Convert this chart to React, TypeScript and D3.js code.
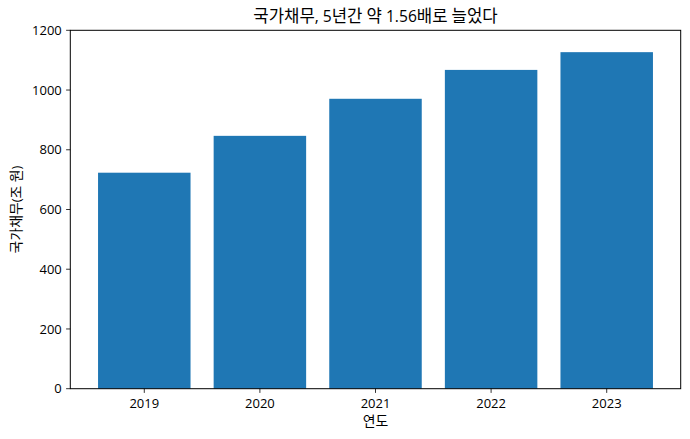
import React from "react";
import * as d3 from "d3";

const years = ["2019", "2020", "2021", "2022", "2023"];
const debt = [723.2, 846.6, 970.7, 1067.4, 1126.8];
const yTicks = [0, 200, 400, 600, 800, 1000, 1200];
const title = "국가채무, 5년간 약 1.56배로 늘었다";
const xLabel = "연도";
const yLabel = "국가채무(조 원)";

const W = 690;
const H = 439;
const left = 70.3;
const right = 680.7;
const top = 30.3;
const bottom = 388.7;
const LATIN = "'Open Sans', sans-serif";
const KR = "'Noto Sans CJK KR', sans-serif";

function runs(s: string) {
  const out: { t: string; k: boolean }[] = [];
  for (const ch of s) {
    const k = /[\u3131-\uD79D]/.test(ch);
    if (out.length && out[out.length - 1].k === k) out[out.length - 1].t += ch;
    else out.push({ t: ch, k });
  }
  return out;
}

function Mixed({ s, kSize, lSize }: { s: string; kSize: number; lSize: number }) {
  return (
    <>
      {runs(s).map((r, i) => (
        <tspan key={i} fontFamily={r.k ? KR : LATIN} fontSize={r.k ? kSize : lSize} style={{ whiteSpace: "pre" }}>
          {r.t}
        </tspan>
      ))}
    </>
  );
}

export default function App() {
  const x = d3.scaleLinear().domain([-0.64, years.length - 1 + 0.64]).range([left, right]);
  const y = d3.scaleLinear().domain([0, 1200]).range([bottom, top]);
  const bw = x(0.4) - x(0);
  return (
    <div style={{ position: "fixed", left: 0, top: 0 }}>
      <svg width={W} height={H} style={{ display: "block", background: "#fff" }}>
        {debt.map((v, i) => (
          <rect
            key={years[i]}
            x={x(i) - bw}
            y={y(v)}
            width={bw * 2}
            height={y(0) - y(v)}
            fill="#1f77b4"
          />
        ))}
        <rect x={left} y={top} width={right - left} height={bottom - top} fill="none" stroke="#000" strokeWidth={1} />
        {yTicks.map((t) => (
          <g key={t}>
            <line x1={left - 4.2} x2={left} y1={y(t)} y2={y(t)} stroke="#000" strokeWidth={0.8} />
            <text x={left - 8.5} y={y(t)} dy="0.36em" textAnchor="end" fontSize={13} fontFamily={LATIN} fill="#000">
              {t}
            </text>
          </g>
        ))}
        {years.map((yr, i) => (
          <g key={yr}>
            <line x1={x(i)} x2={x(i)} y1={bottom} y2={bottom + 4.2} stroke="#000" strokeWidth={0.8} />
            <text x={x(i)} y={407.5} textAnchor="middle" fontSize={13} fontFamily={LATIN} fill="#000">
              {yr}
            </text>
          </g>
        ))}
        <text x={(left + right) / 2} y={425.5} textAnchor="middle" fill="#000">
          <Mixed s={xLabel} kSize={13.9} lSize={13} />
        </text>
        <text
          transform={`translate(21, ${(top + bottom) / 2}) rotate(-90)`}
          textAnchor="middle"
          fill="#000"
        >
          <Mixed s={yLabel} kSize={13.9} lSize={13} />
        </text>
        <text x={(left + right) / 2} y={22} textAnchor="middle" fill="#000">
          <Mixed s={title} kSize={16.7} lSize={15.6} />
        </text>
      </svg>
    </div>
  );
}
